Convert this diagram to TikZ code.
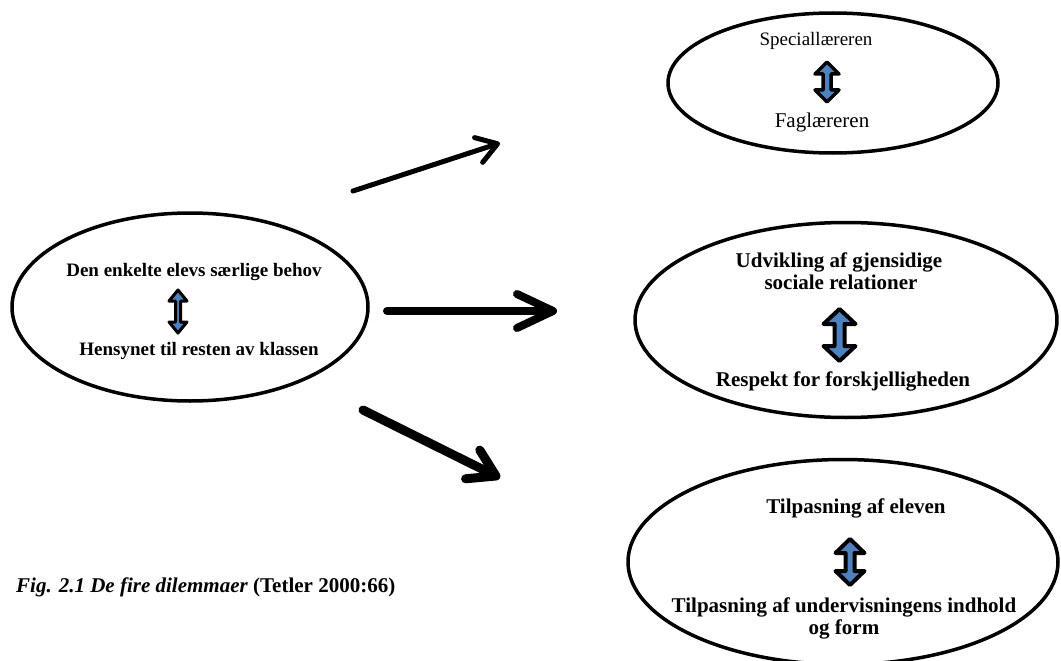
\documentclass[tikz,border=0pt]{standalone}
\usepackage{fontspec}
\setmainfont{Liberation Serif}
\usetikzlibrary{arrows.meta,shapes.geometric}
\definecolor{arrblue}{HTML}{4F81BD}
\tikzset{
  oval/.style={ellipse, draw, line width=3.5pt, inner sep=0pt},
  txt/.style={anchor=base, inner sep=0pt},
  bf19/.style={txt, font=\fontsize{19}{21}\selectfont\bfseries},
  bf21/.style={txt, font=\fontsize{21}{23}\selectfont\bfseries},
  dblarrow/.style={draw=black, fill=arrblue, line join=round},
  conn/.style={line cap=round, draw=black},
}
\newcommand\dblarr[7]{% cx, top y, bottom y, head half width, shaft half width, head length, line width
  \draw[dblarrow, line width=#7] (#1,#2) -- ({#1+#4},{#2+#6}) -- ({#1+#5},{#2+#6}) -- ({#1+#5},{#3-#6}) -- ({#1+#4},{#3-#6}) -- (#1,#3)
    -- ({#1-#4},{#3-#6}) -- ({#1-#5},{#3-#6}) -- ({#1-#5},{#2+#6}) -- ({#1-#4},{#2+#6}) -- cycle;}
\begin{document}
\begin{tikzpicture}[x=1pt,y=-1pt]
\useasboundingbox (0,0) rectangle (1061,661);
% ellipses
\node[oval, minimum width=356pt, minimum height=188pt] (left) at (190,307) {};
\node[oval, minimum width=330pt, minimum height=140pt] (top) at (833,83) {};
\node[oval, minimum width=422pt, minimum height=195pt] (mid) at (846,320) {};
\node[oval, minimum width=430pt, minimum height=205pt] (bot) at (843,562) {};
% left texts
\node[bf19] (l1) at (194,276) {Den enkelte elevs særlige behov};
\node[bf19] (l2) at (199,355) {Hensynet til resten av klassen};
\dblarr{178}{290}{333}{9}{2.5}{11}{3pt}
% top texts
\node[txt, font=\fontsize{19}{21}\selectfont] (t1) at (816,46) {Speciallæreren};
\node[txt, font=\fontsize{21}{23}\selectfont] (t2) at (822,127) {Faglæreren};
\dblarr{827}{62}{102}{12}{4}{12}{3.5pt}
% middle texts
\node[bf21] (m1) at (839,267) {Udvikling af gjensidige};
\node[bf21] (m1b) at (841,289) {sociale relationer};
\node[bf21] (m2) at (843,386) {Respekt for forskjelligheden};
\dblarr{839.5}{309}{361}{16}{5}{15}{4pt}
% bottom texts
\node[bf21] (b1) at (856,513) {Tilpasning af eleven};
\node[bf21] (b2) at (844,612) {Tilpasning af undervisningens indhold};
\node[bf21] (b2b) at (844,634) {og form};
\dblarr{850}{539}{585}{14.5}{4.5}{14}{4pt}
% caption
\node[anchor=base west, inner sep=0pt, font=\fontsize{21}{23}\selectfont\bfseries] (cap) at (16,592) {\textit{Fig. 2.1 De fire dilemmaer} (Tetler 2000:66)};
% connectors
\coordinate (a1s) at (353,191); \coordinate (a1e) at (500,143);
\coordinate (a2s) at (387,311); \coordinate (a2e) at (557,311);
\coordinate (a3s) at (363,410); \coordinate (a3e) at (500,478);
\draw[conn, line width=5pt, -{Straight Barb[length=20pt, width=26pt, line cap=round, line join=round]}] (a1s) -- (a1e);
\draw[conn, line width=8pt, -{Straight Barb[length=36pt, width=34pt, line cap=round, line join=round]}] (a2s) -- (a2e);
\draw[conn, line width=9pt, -{Straight Barb[length=26pt, width=32pt, line cap=round, line join=round]}] (a3s) -- (a3e);
\end{tikzpicture}
\end{document}
